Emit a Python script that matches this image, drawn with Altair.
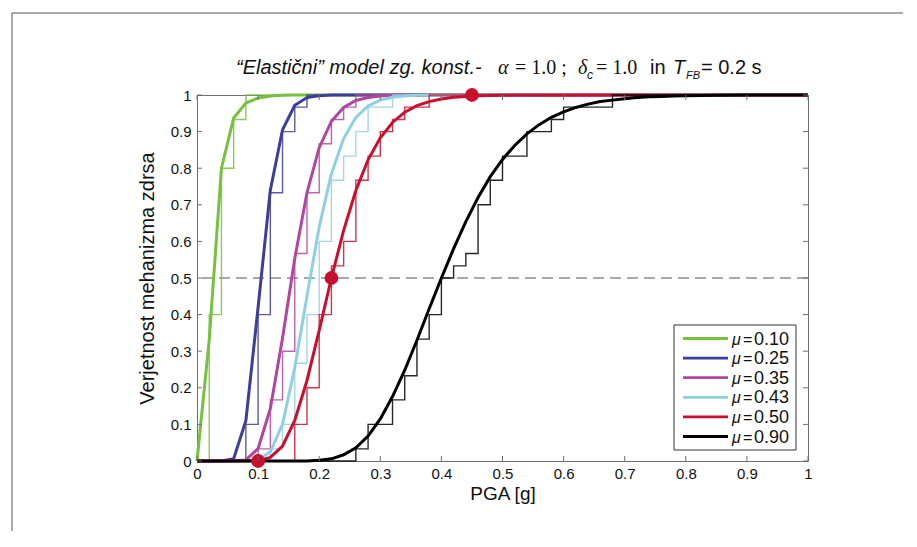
import altair as alt
import pandas as pd

# ---------------- data ----------------
mu_labels = ["0.10", "0.25", "0.35", "0.43", "0.50", "0.90"]
colors = ["#78c03f", "#3d3d9a", "#b1469e", "#90cfe1", "#c8102e", "#000000"]

# fitted curves (PGA [g], probability)
curve_x_010 = [0, 0.02, 0.04, 0.06, 0.08, 0.10, 0.12, 0.14, 0.16, 1.0]
curve_y_010 = [0, 0.33, 0.80, 0.937, 0.978, 0.992, 0.997, 0.999, 1.0, 1.0]

curve_x_025 = [0, 0.04, 0.06, 0.08, 0.10, 0.12, 0.14, 0.16, 0.18, 0.20, 0.22, 1.0]
curve_y_025 = [0, 0.0, 0.006, 0.11, 0.42, 0.74, 0.905, 0.972, 0.993, 0.998, 1.0, 1.0]

curve_x_035 = [0, 0.06, 0.08, 0.10, 0.12, 0.14, 0.16, 0.18, 0.20, 0.22, 0.24, 0.26, 0.28, 0.30, 0.32, 1.0]
curve_y_035 = [0, 0.0, 0.003, 0.034, 0.143, 0.336, 0.553, 0.733, 0.856, 0.928, 0.966, 0.985, 0.993, 0.997, 0.999, 1.0]

curve_x_043 = [0, 0.08, 0.10, 0.12, 0.14, 0.16, 0.18, 0.20, 0.22, 0.24, 0.26, 0.28, 0.30, 0.32, 0.34, 0.36, 1.0]
curve_y_043 = [0, 0.0, 0.003, 0.025, 0.10, 0.255, 0.451, 0.64, 0.785, 0.881, 0.939, 0.970, 0.986, 0.994, 0.997, 0.999, 1.0]

curve_x_050 = [0, 0.10, 0.12, 0.14, 0.16, 0.18, 0.20, 0.22, 0.24, 0.26, 0.28, 0.30, 0.32, 0.34, 0.36,
               0.38, 0.40, 0.42, 0.44, 0.46, 0.50, 1.0]
curve_y_050 = [0, 0.001, 0.01, 0.041, 0.111, 0.22, 0.357, 0.5, 0.63, 0.739, 0.823, 0.883, 0.925, 0.953, 0.971,
               0.982, 0.989, 0.994, 0.996, 0.998, 0.999, 1.0]

curve_x_090 = [0, 0.18, 0.20, 0.22, 0.24, 0.26, 0.28, 0.30, 0.32, 0.34, 0.36, 0.38, 0.40, 0.42, 0.44, 0.46,
               0.48, 0.50, 0.52, 0.54, 0.56, 0.58, 0.60, 0.62, 0.64, 0.66, 0.68, 0.70, 0.72, 0.74, 0.76,
               0.78, 0.80, 0.85, 0.90, 1.0]
curve_y_090 = [0, 0.0, 0.002, 0.006, 0.017, 0.036, 0.068, 0.115, 0.176, 0.248, 0.33, 0.416, 0.5, 0.58, 0.654, 0.72,
               0.777, 0.824, 0.862, 0.894, 0.919, 0.939, 0.954, 0.966, 0.975, 0.982, 0.986, 0.990, 0.993, 0.995, 0.996,
               0.997, 0.998, 0.999, 1.0, 1.0]

# empirical (stair) distributions
stair_x_010 = [0, 0.02, 0.04, 0.06, 0.08, 1.0]
stair_y_010 = [0, 0.4, 0.8, 0.933, 1.0, 1.0]

stair_x_025 = [0, 0.08, 0.10, 0.12, 0.14, 0.16, 0.18, 1.0]
stair_y_025 = [0, 0.1, 0.4, 0.733, 0.9, 0.967, 1.0, 1.0]

stair_x_035 = [0, 0.10, 0.12, 0.14, 0.16, 0.18, 0.20, 0.22, 0.24, 0.26, 1.0]
stair_y_035 = [0, 0.033, 0.167, 0.3, 0.567, 0.733, 0.867, 0.933, 0.967, 1.0, 1.0]

stair_x_043 = [0, 0.12, 0.14, 0.16, 0.18, 0.20, 0.22, 0.24, 0.26, 0.28, 0.32, 1.0]
stair_y_043 = [0, 0.033, 0.1, 0.267, 0.4, 0.6, 0.767, 0.833, 0.9, 0.967, 1.0, 1.0]

stair_x_050 = [0, 0.16, 0.18, 0.20, 0.22, 0.24, 0.26, 0.28, 0.30, 0.32, 0.34, 0.38, 1.0]
stair_y_050 = [0, 0.1, 0.2, 0.4, 0.533, 0.6, 0.767, 0.833, 0.9, 0.933, 0.967, 1.0, 1.0]

stair_x_090 = [0, 0.26, 0.28, 0.32, 0.34, 0.36, 0.38, 0.40, 0.42, 0.44, 0.46, 0.48, 0.50, 0.54, 0.58, 0.60, 0.68, 1.0]
stair_y_090 = [0, 0.033, 0.1, 0.167, 0.233, 0.333, 0.4, 0.5, 0.533, 0.567, 0.7, 0.767, 0.833, 0.9, 0.933, 0.967, 1.0, 1.0]

# highlighted points on the mu = 0.50 curve
dot_x = [0.10, 0.22, 0.45]
dot_y = [0.0, 0.5, 1.0]

tick_values = [0, 0.1, 0.2, 0.3, 0.4, 0.5, 0.6, 0.7, 0.8, 0.9, 1.0]

curves_x = [curve_x_010, curve_x_025, curve_x_035, curve_x_043, curve_x_050, curve_x_090]
curves_y = [curve_y_010, curve_y_025, curve_y_035, curve_y_043, curve_y_050, curve_y_090]
stairs_x = [stair_x_010, stair_x_025, stair_x_035, stair_x_043, stair_x_050, stair_x_090]
stairs_y = [stair_y_010, stair_y_025, stair_y_035, stair_y_043, stair_y_050, stair_y_090]

# ---------------- styling ----------------
W, H = 611, 366
FRAME = "#6e6e6e"
FONT = "Liberation Sans"
SERIF = "Liberation Serif"

xs = alt.Scale(domain=[0, 1], nice=False, zero=False)
ys = alt.Scale(domain=[0, 1], nice=False, zero=False)
x_axis = alt.Axis(values=tick_values, format="~g", title="PGA [g]", labelFontSize=15, titleFontSize=19,
                  labelPadding=5, titlePadding=3, ticks=False, domain=False, grid=False,
                  labelOverlap=False, labelFlush=False,
                  labelFont=FONT, titleFont=FONT, titleFontWeight="normal", labelColor="#111",
                  titleColor="#111")
y_axis = alt.Axis(values=tick_values, format="~g", title="Verjetnost mehanizma zdrsa", labelFontSize=15,
                  titleFontSize=20, labelPadding=6, titlePadding=13, ticks=False, domain=False,
                  grid=False, labelOverlap=False, labelFlush=False,
                  labelFont=FONT, titleFont=FONT, titleFontWeight="normal",
                  labelColor="#111", titleColor="#111")


def X(field):
    return alt.X(field, scale=xs, axis=x_axis)


def Y(field):
    return alt.Y(field, scale=ys, axis=y_axis)


layers = []

# dashed 50 % line
layers.append(alt.Chart(pd.DataFrame({"y": [0.5]})).mark_rule(
    color="#8c8c8c", strokeDash=[11, 6], strokeWidth=1.3).encode(y=Y("y:Q")))

for i in range(6):
    sdf = pd.DataFrame({"x": stairs_x[i], "y": stairs_y[i]})
    layers.append(alt.Chart(sdf).mark_line(
        interpolate="step-after", color=colors[i], strokeWidth=1.4, opacity=0.85).encode(
        x=X("x:Q"), y=Y("y:Q")))
    cdf = pd.DataFrame({"x": curves_x[i], "y": curves_y[i]})
    layers.append(alt.Chart(cdf).mark_line(color=colors[i], strokeWidth=3).encode(
        x=X("x:Q"), y=Y("y:Q")))

layers.append(alt.Chart(pd.DataFrame({"x": dot_x, "y": dot_y})).mark_circle(
    size=190, color="#c8102e", opacity=1).encode(x=X("x:Q"), y=Y("y:Q")))

# inward ticks on all four sides
tdf = pd.DataFrame({"v": tick_values})
layers.append(alt.Chart(tdf).mark_rule(color=FRAME, strokeWidth=1).encode(
    x=X("v:Q"), y=alt.value(H), y2=alt.value(H - 5)))
layers.append(alt.Chart(tdf).mark_rule(color=FRAME, strokeWidth=1).encode(
    x=X("v:Q"), y=alt.value(0), y2=alt.value(5)))
layers.append(alt.Chart(tdf).mark_rule(color=FRAME, strokeWidth=1).encode(
    y=Y("v:Q"), x=alt.value(0), x2=alt.value(5)))
layers.append(alt.Chart(tdf).mark_rule(color=FRAME, strokeWidth=1).encode(
    y=Y("v:Q"), x=alt.value(W), x2=alt.value(W - 5)))

one = pd.DataFrame({"a": [0]})


def txt(text, x, y, size, style="normal", font=FONT, baseline="alphabetic"):
    return alt.Chart(one).mark_text(text=text, font=font, fontSize=size, fontStyle=style,
                                    align="left", baseline=baseline, color="#111").encode(
        x=alt.value(x), y=alt.value(y))


# legend box
layers.append(alt.Chart(one).mark_rect(fill="white", stroke="#333333", strokeWidth=1).encode(
    x=alt.value(477), x2=alt.value(599), y=alt.value(230), y2=alt.value(355)))
for i in range(6):
    yy = 243.5 + 19.6 * i
    layers.append(alt.Chart(one).mark_rule(color=colors[i], strokeWidth=2.8).encode(
        x=alt.value(486), x2=alt.value(531), y=alt.value(yy)))
    layers.append(txt("\u03bc", 535, yy + 1, 16, "italic", baseline="middle"))
    layers.append(txt("=", 546, yy + 1, 16, baseline="middle"))
    layers.append(txt(mu_labels[i], 557, yy + 1, 18, baseline="middle"))

# title pieces
TY = -21
layers.append(txt("\u201cElasti\u010dni\u201d model zg. konst.-", 39, TY, 20, "italic"))
layers.append(txt("\u03b1", 301, TY, 20, "italic", SERIF))
layers.append(txt("= 1.0 ;", 318, TY, 20, "normal", SERIF))
layers.append(txt("\u03b4", 381, TY, 20, "italic", SERIF))
layers.append(txt("c", 390, TY + 5, 12, "italic"))
layers.append(txt("= 1.0", 399, TY, 20, "normal", SERIF))
layers.append(txt("in", 453, TY, 20))
layers.append(txt("T", 476, TY, 20, "italic"))
layers.append(txt("FB", 489, TY + 5, 11, "italic"))
layers.append(txt("= 0.2 s", 504, TY, 20))

# outer figure border
layers.append(alt.Chart(one).mark_rect(fill="transparent", stroke="#555555", strokeWidth=1).encode(
    x=alt.value(-185), x2=alt.value(760), y=alt.value(-82), y2=alt.value(480)))

chart = alt.layer(*layers).properties(
    width=W, height=H,
    padding={"left": 189, "top": 87, "right": 95, "bottom": 70},
    autosize=alt.AutoSizeParams(type="none"),
    background="white",
).configure_view(stroke=FRAME, strokeWidth=1).configure_axis(labelOverlap=False)

chart.save("out.html", embed_options={"renderer": "svg", "actions": False})
